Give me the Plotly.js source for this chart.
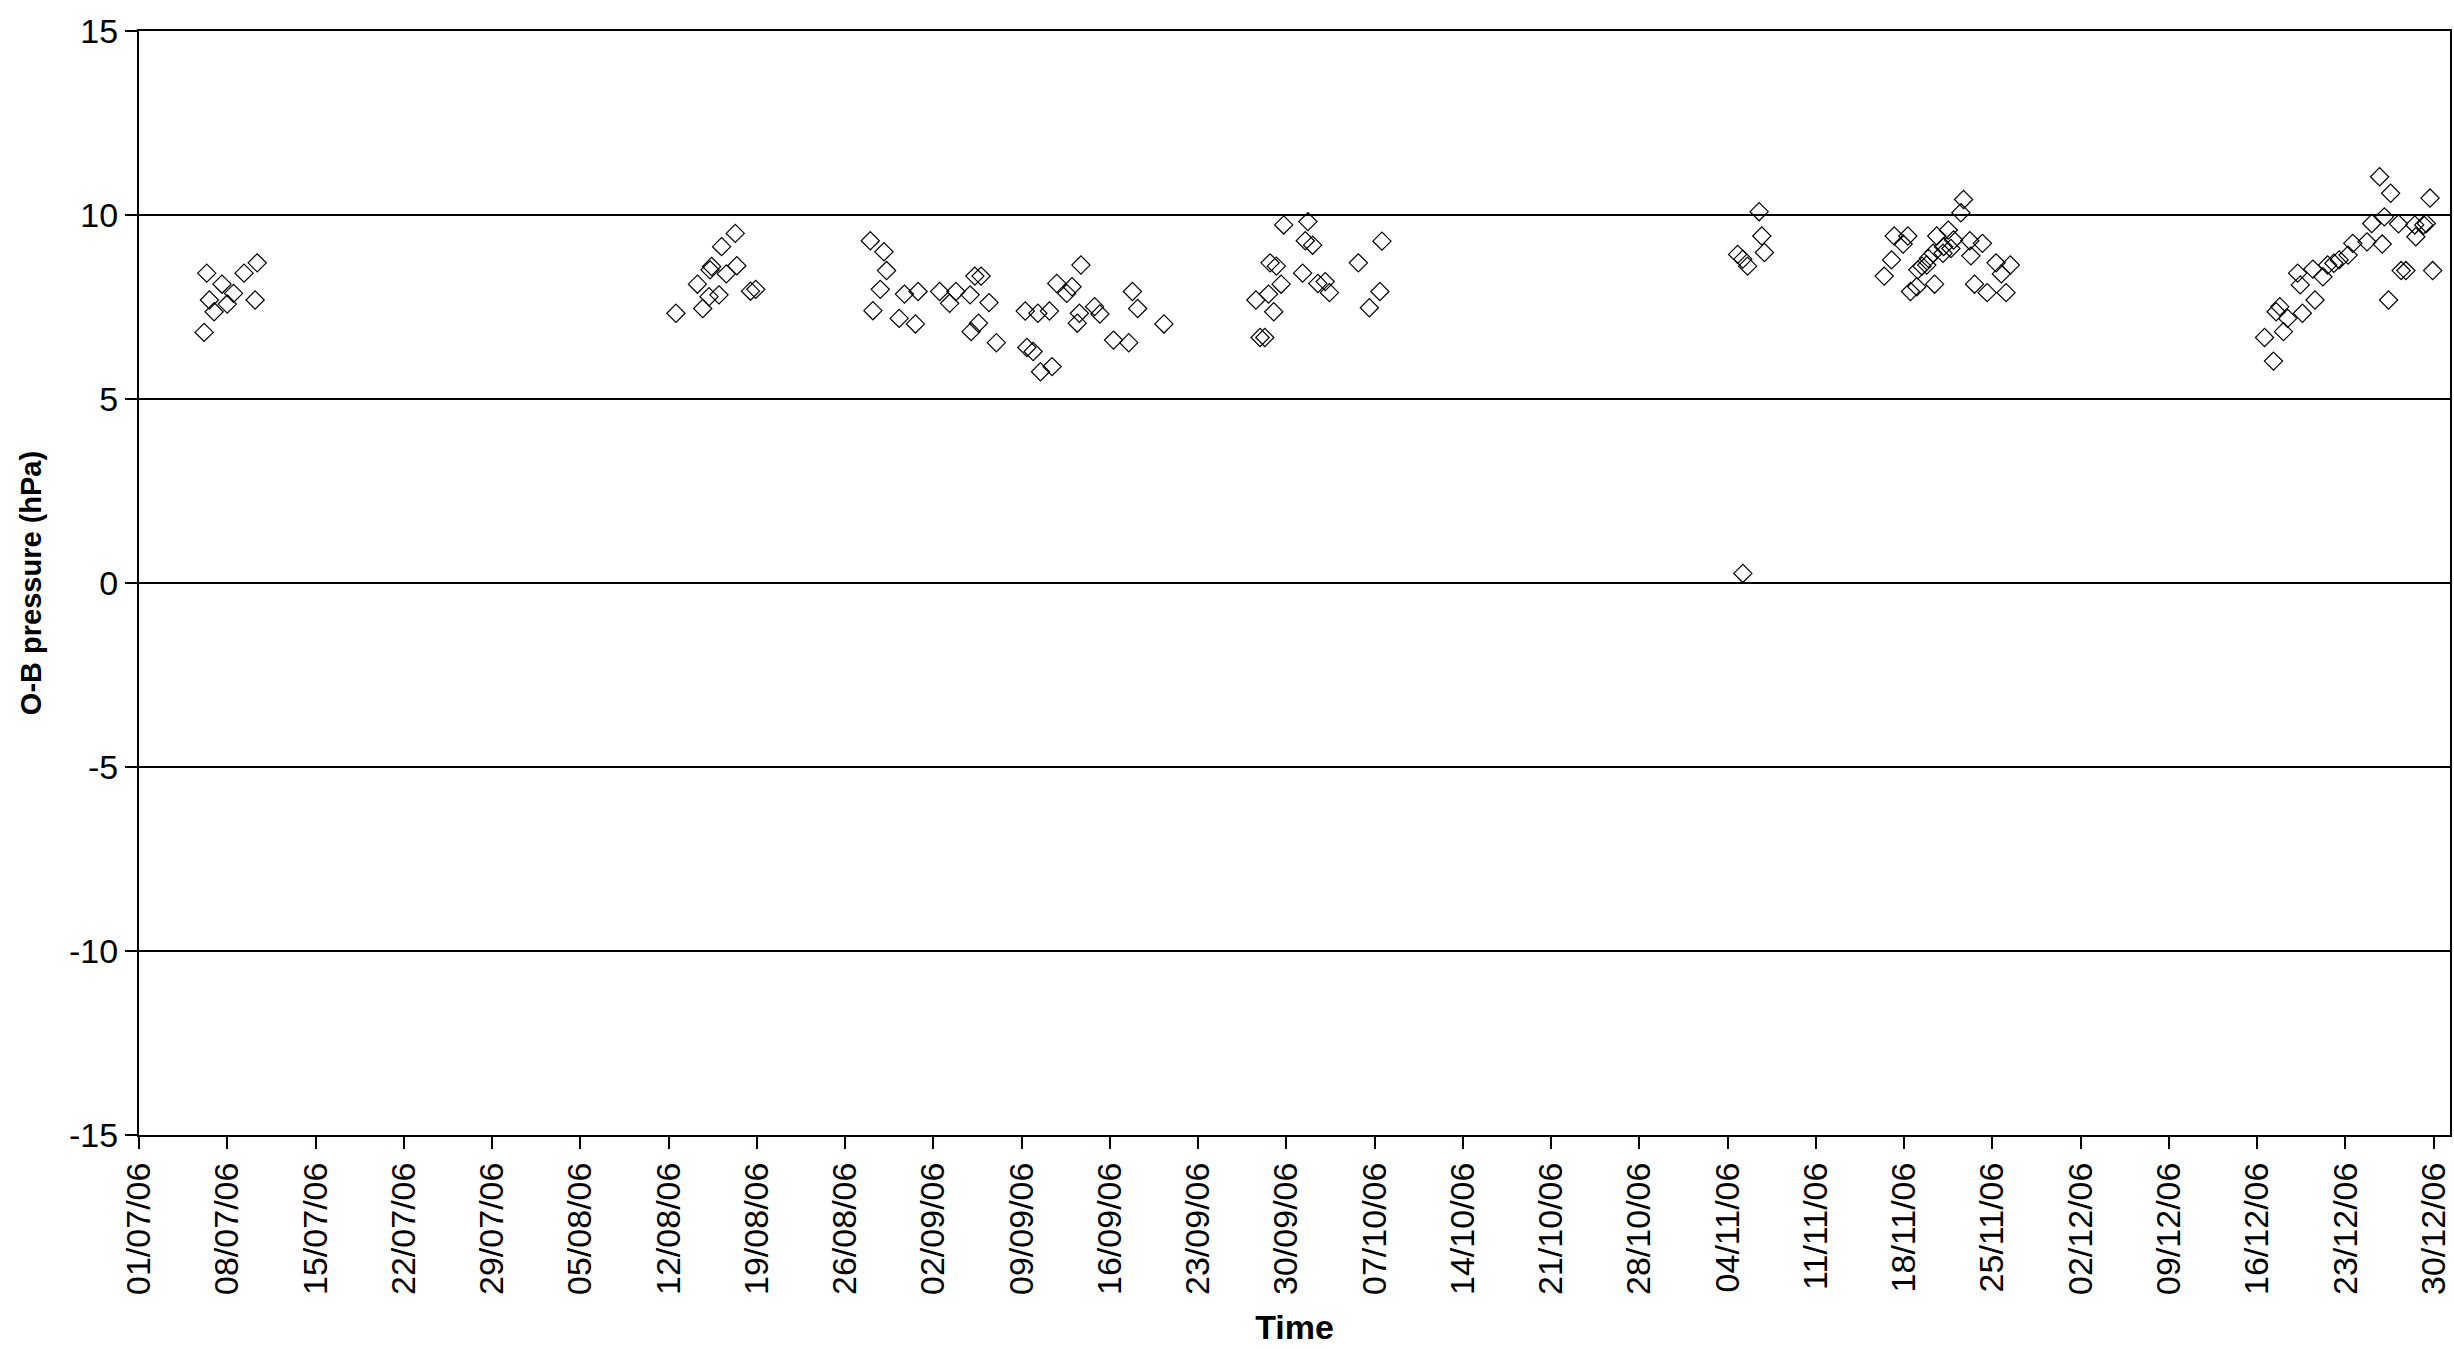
<!DOCTYPE html>
<html>
<head>
<meta charset="utf-8">
<script src="https://cdn.plot.ly/plotly-3.0.1.min.js"></script>
<style>
  html, body { margin: 0; padding: 0; background: #ffffff; }
  #chart { width: 2454px; height: 1349px; }
</style>
</head>
<body>
<div id="chart"></div>
<script>
const obsTimes = [
  // early July
  "2006-07-06 04:00","2006-07-06 09:00","2006-07-06 14:00","2006-07-06 23:00","2006-07-07 14:00",
  "2006-07-08 00:00","2006-07-08 12:00","2006-07-09 08:00","2006-07-10 05:00","2006-07-10 09:00",
  // mid August
  "2006-08-12 14:00","2006-08-14 07:00","2006-08-14 17:00","2006-08-15 05:00","2006-08-15 07:00",
  "2006-08-15 10:00","2006-08-16 00:00","2006-08-16 05:00","2006-08-16 14:00","2006-08-17 07:00",
  "2006-08-17 10:00","2006-08-18 12:00","2006-08-18 22:00",
  // late August - September
  "2006-08-28 00:00","2006-08-28 05:00","2006-08-28 19:00","2006-08-29 02:00","2006-08-29 07:00",
  "2006-08-30 07:00","2006-08-30 17:00","2006-08-31 14:00","2006-08-31 19:00","2006-09-02 12:00",
  "2006-09-03 07:00","2006-09-03 19:00","2006-09-04 22:00","2006-09-05 00:00","2006-09-05 07:00",
  "2006-09-05 14:00","2006-09-05 19:00","2006-09-06 10:00","2006-09-07 00:00","2006-09-09 07:00",
  "2006-09-09 10:00","2006-09-09 22:00","2006-09-10 07:00","2006-09-10 12:00","2006-09-11 05:00",
  "2006-09-11 10:00","2006-09-11 19:00","2006-09-12 14:00","2006-09-13 00:00","2006-09-13 10:00",
  "2006-09-13 14:00","2006-09-13 17:00","2006-09-14 19:00","2006-09-15 05:00","2006-09-16 07:00",
  "2006-09-17 12:00","2006-09-17 19:00","2006-09-18 05:00","2006-09-20 07:00",
  // late September - early October
  "2006-09-27 14:00","2006-09-27 22:00","2006-09-28 07:00","2006-09-28 14:00","2006-09-28 17:00",
  "2006-09-29 00:00","2006-09-29 05:00","2006-09-29 14:00","2006-09-29 19:00","2006-10-01 07:00",
  "2006-10-01 12:00","2006-10-01 17:00","2006-10-02 02:00","2006-10-02 12:00","2006-10-03 02:00",
  "2006-10-03 10:00","2006-10-05 17:00","2006-10-06 14:00","2006-10-07 10:00","2006-10-07 14:00",
  // early November
  "2006-11-04 19:00","2006-11-05 05:00","2006-11-05 05:00","2006-11-05 14:00","2006-11-06 12:00",
  "2006-11-06 17:00","2006-11-06 22:00",
  // mid November
  "2006-11-16 10:00","2006-11-17 00:00","2006-11-17 05:00","2006-11-17 22:00","2006-11-18 07:00",
  "2006-11-18 12:00","2006-11-19 00:00","2006-11-19 02:00","2006-11-19 10:00","2006-11-19 19:00",
  "2006-11-19 22:00","2006-11-20 07:00","2006-11-20 10:00","2006-11-20 14:00","2006-11-21 02:00",
  "2006-11-21 03:00","2006-11-21 12:00","2006-11-21 17:00","2006-11-21 22:00","2006-11-22 12:00",
  "2006-11-22 17:00","2006-11-23 05:00","2006-11-23 07:00","2006-11-23 14:00","2006-11-24 05:00",
  "2006-11-24 14:00","2006-11-25 07:00","2006-11-25 17:00","2006-11-26 02:00","2006-11-26 10:00",
  // late December
  "2006-12-16 14:00","2006-12-17 07:00","2006-12-17 12:00","2006-12-17 19:00","2006-12-18 02:00",
  "2006-12-18 10:00","2006-12-19 05:00","2006-12-19 10:00","2006-12-19 14:00","2006-12-20 10:00",
  "2006-12-20 14:00","2006-12-21 05:00","2006-12-21 14:00","2006-12-22 02:00","2006-12-22 12:00",
  "2006-12-23 05:00","2006-12-23 14:00","2006-12-24 17:00","2006-12-25 02:00","2006-12-25 17:00",
  "2006-12-25 22:00","2006-12-26 02:00","2006-12-26 10:00","2006-12-26 14:00","2006-12-27 05:00",
  "2006-12-27 10:00","2006-12-27 19:00","2006-12-28 12:00","2006-12-28 14:00","2006-12-29 05:00",
  "2006-12-29 10:00","2006-12-29 17:00","2006-12-29 22:00"
];

// O-B surface pressure departures, hPa
const obMinusB = [
  // early July
  6.81, 8.42, 7.69, 7.37, 8.12,
  7.58, 7.87, 8.42, 7.69, 8.70,
  // mid August
  7.33, 8.12, 7.46, 7.78, 8.51,
  8.60, 7.83, 9.14, 8.40, 9.50,
  8.62, 7.93, 7.98,
  // late August - September
  9.30, 7.40, 7.98, 9.00, 8.49,
  7.19, 7.85, 7.04, 7.92, 7.92,
  7.60, 7.92, 7.83, 6.83, 8.34,
  7.06, 8.34, 7.62, 6.53, 7.39,
  6.40, 6.29, 7.33, 5.74, 7.39,
  5.88, 8.14, 7.87, 8.05, 7.06,
  7.33, 8.64, 7.51, 7.31, 6.60,
  6.53, 7.92, 7.46, 7.04,
  // late September - early October
  7.69, 6.67, 6.67, 7.85, 8.70,
  7.37, 8.61, 8.12, 9.73, 8.42,
  9.30, 9.82, 9.18, 8.14, 8.19,
  7.89, 8.70, 7.48, 7.92, 9.29,
  // early November
  8.93, 8.80, 0.26, 8.61, 10.09,
  9.43, 8.98,
  // mid November
  8.34, 8.78, 9.43, 9.21, 9.43,
  7.92, 8.05, 8.51, 8.61, 8.64,
  8.82, 8.96, 8.12, 9.43, 8.96,
  9.14, 9.59, 9.09, 9.32, 10.06,
  10.42, 9.30, 8.89, 8.12, 9.23,
  7.89, 8.70, 8.40, 7.89, 8.64,
  // late December
  6.67, 6.03, 7.37, 7.51, 6.83,
  7.19, 8.42, 8.10, 7.33, 8.53,
  7.69, 8.32, 8.64, 8.69, 8.78,
  8.91, 9.23, 9.27, 9.77, 11.04,
  9.21, 9.95, 7.69, 10.59, 9.76,
  8.49, 8.49, 9.73, 9.41, 9.73,
  9.77, 10.46, 8.49
];

// Weekly axis ticks and their labels
const tickDates = [
  "2006-07-01","2006-07-08","2006-07-15","2006-07-22","2006-07-29","2006-08-05","2006-08-12",
  "2006-08-19","2006-08-26","2006-09-02","2006-09-09","2006-09-16","2006-09-23","2006-09-30",
  "2006-10-07","2006-10-14","2006-10-21","2006-10-28","2006-11-04","2006-11-11","2006-11-18",
  "2006-11-25","2006-12-02","2006-12-09","2006-12-16","2006-12-23","2006-12-30"
];
const tickLabels = [
  "01/07/06","08/07/06","15/07/06","22/07/06","29/07/06","05/08/06","12/08/06",
  "19/08/06","26/08/06","02/09/06","09/09/06","16/09/06","23/09/06","30/09/06",
  "07/10/06","14/10/06","21/10/06","28/10/06","04/11/06","11/11/06","18/11/06",
  "25/11/06","02/12/06","09/12/06","16/12/06","23/12/06","30/12/06"
];
const yTicks = [-15, -10, -5, 0, 5, 10, 15];

const FONT = '"Liberation Sans", Arial, sans-serif';

const trace = {
  type: 'scatter',
  mode: 'markers',
  x: obsTimes,
  y: obMinusB,
  marker: {
    symbol: 'diamond-open',
    size: 14,
    color: '#000000',
    line: { color: '#000000', width: 1.2 }
  },
  hoverinfo: 'x+y',
  showlegend: false
};

const layout = {
  width: 2454,
  height: 1349,
  paper_bgcolor: '#ffffff',
  plot_bgcolor: '#ffffff',
  margin: { l: 139, r: 4, t: 31, b: 214, pad: 0 },
  font: { family: FONT, color: '#000000', size: 34 },
  showlegend: false,
  xaxis: {
    type: 'date',
    range: ['2006-07-01 00:00', '2006-12-31 07:00'],
    tickmode: 'array',
    tickvals: tickDates,
    ticktext: tickLabels,
    tickangle: -90,
    ticks: 'outside',
    ticklen: 12,
    tickwidth: 2,
    tickcolor: '#000000',
    tickfont: { family: FONT, size: 34, color: '#000000' },
    showgrid: false,
    zeroline: false,
    showline: true,
    linecolor: '#000000',
    linewidth: 2,
    mirror: true,
    automargin: false,
    title: {
      text: 'Time',
      font: { family: FONT, size: 34, color: '#000000', weight: 'bold' },
      standoff: 21
    }
  },
  yaxis: {
    range: [-15, 15],
    tickmode: 'array',
    tickvals: yTicks,
    ticktext: yTicks.map(String),
    ticks: 'outside',
    ticklen: 12,
    tickwidth: 2,
    tickcolor: '#000000',
    tickfont: { family: FONT, size: 34, color: '#000000' },
    showgrid: true,
    gridcolor: '#000000',
    gridwidth: 2,
    zeroline: false,
    showline: true,
    linecolor: '#000000',
    linewidth: 2,
    mirror: true,
    automargin: false,
    title: {
      text: 'O-B pressure (hPa)',
      font: { family: FONT, size: 29, color: '#000000', weight: 'bold' },
      standoff: 19
    }
  }
};

Plotly.newPlot('chart', [trace], layout, { staticPlot: true, displayModeBar: false });
</script>
</body>
</html>
